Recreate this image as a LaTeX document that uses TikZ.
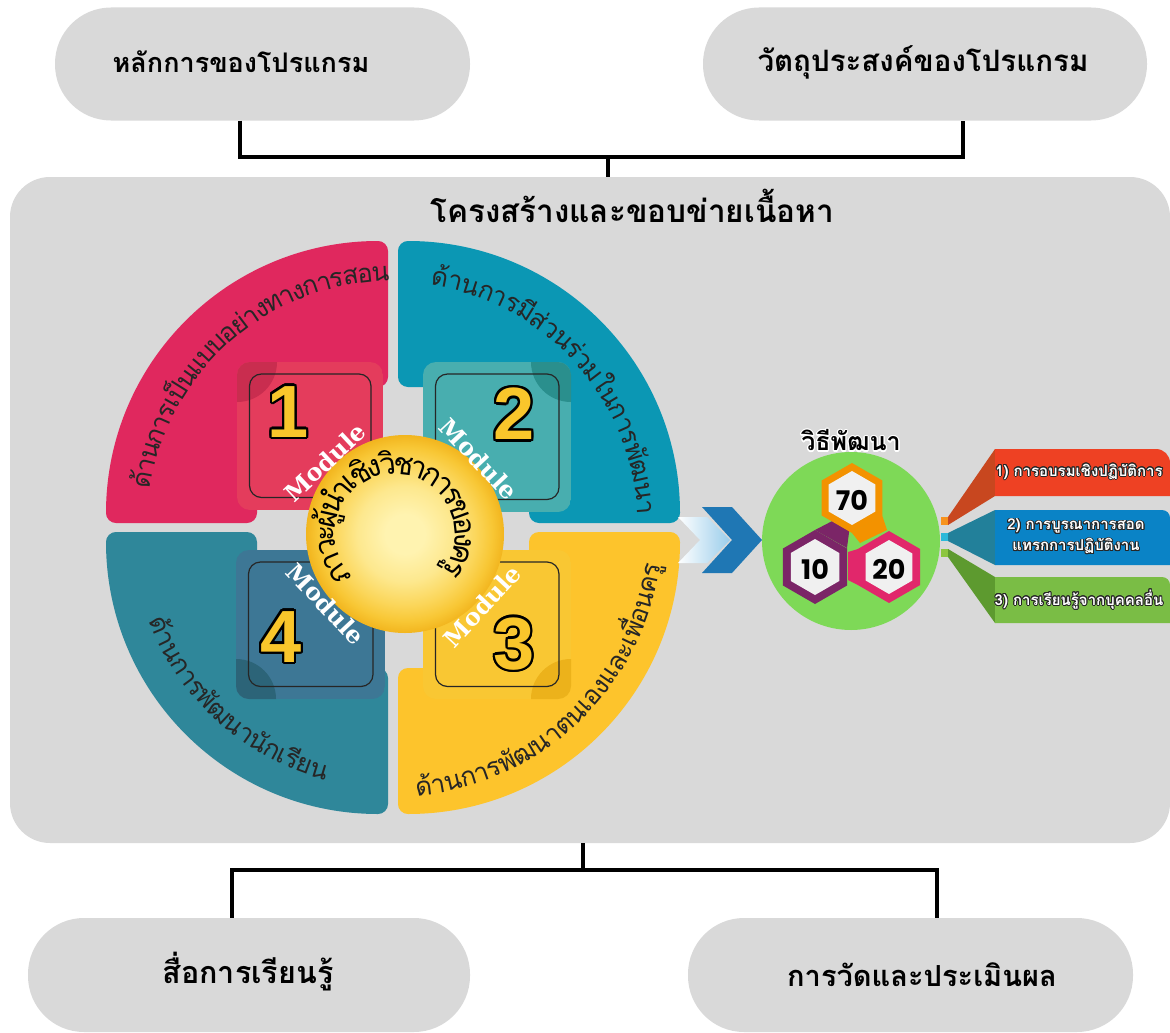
\documentclass[tikz,border=0pt]{standalone}
\usepackage{fontspec}
\setmainfont{Liberation Sans}
\newfontfamily\thai[Script=Thai]{Loma}
\newfontfamily\slab{DejaVu Serif}
\newfontfamily\pop{Poppins}
\usepackage{contour}
\usetikzlibrary{calc,shapes.geometric}
\definecolor{boxgray}{HTML}{D9D9D9}
\definecolor{qpink}{HTML}{E0285E}\definecolor{spink}{HTML}{E43C5C}\definecolor{dpink}{HTML}{C92D4F}
\definecolor{qteal}{HTML}{0B97B4}\definecolor{steal}{HTML}{48AEAF}\definecolor{dteal}{HTML}{2A8F8D}
\definecolor{qdteal}{HTML}{2F879A}\definecolor{sdteal}{HTML}{3D7795}\definecolor{ddteal}{HTML}{2C6478}
\definecolor{qyel}{HTML}{FDC42C}\definecolor{syel}{HTML}{F9C733}\definecolor{dyel}{HTML}{ECB21B}
\definecolor{numyel}{HTML}{F9C62B}
\definecolor{sunA}{HTML}{FFF3B0}\definecolor{sunB}{HTML}{FDE88E}\definecolor{sunC}{HTML}{FBD65A}
\definecolor{sunD}{HTML}{F8C735}\definecolor{sunE}{HTML}{F2B51E}
\definecolor{gcircle}{HTML}{7ED957}
\definecolor{hexor}{HTML}{F39200}\definecolor{hexpu}{HTML}{7B2567}\definecolor{hexpk}{HTML}{E1276B}
\definecolor{chevdark}{HTML}{1F77B4}\definecolor{chevlight}{HTML}{9ACDEB}
\definecolor{rone}{HTML}{EE4123}\definecolor{rones}{HTML}{C8471F}\definecolor{tabor}{HTML}{F7931E}
\definecolor{btwo}{HTML}{0A83C6}\definecolor{btwos}{HTML}{22809A}\definecolor{tabcy}{HTML}{2BB8D9}
\definecolor{gthree}{HTML}{7ABD45}\definecolor{gthrees}{HTML}{5D9A2F}\definecolor{tabgr}{HTML}{8CC63F}
\definecolor{qtext}{HTML}{262626}
\pgfdeclareradialshading{sun}{\pgfpoint{0bp}{0bp}}{color(0bp)=(sunA); color(5bp)=(sunA); color(12bp)=(sunB); color(18bp)=(sunC); color(22bp)=(sunD); color(25bp)=(sunE); color(50bp)=(sunE)}
\newlength\clw
\newcommand\circfont{\thai\fontsize{30}{30}\selectfont}
\newcommand\quadfont{\thai\fontsize{26}{26}\selectfont\color{qtext}}
% measure clusters outside the picture
\newcommand\prepare[3]{%
  \xdef\totw{0}\gdef\pairs{}%
  \foreach \cl in {#3}{\settowidth\clw{#2\cl}\pgfmathsetmacro\tmpw{\totw+\clw}\xdef\totw{\tmpw}%
     \ifx\pairs\empty\xdef\pairs{\cl/\the\clw}\else\xdef\pairs{\pairs,\cl/\the\clw}\fi}%
  \global\expandafter\let\csname pairs#1\endcsname\pairs
  \global\expandafter\let\csname tot#1\endcsname\totw}
\prepare{C}{\circfont}{ภ,า,ว,ะ,ผู้,น,ำ,เ,ชิ,ง,วิ,ช,า,ก,า,ร,ข,อ,ง,ค,รู}
\prepare{P}{\quadfont}{ด้,า,น,ก,า,ร,เ,ป็,น,แ,บ,บ,อ,ย่,า,ง,ท,า,ง,ก,า,ร,ส,อ,น}
\prepare{T}{\quadfont}{ด้,า,น,ก,า,ร,มี,ส่,ว,น,ร่,ว,ม,ใ,น,ก,า,ร,พั,ฒ,น,า}
\prepare{D}{\quadfont}{ด้,า,น,ก,า,ร,พั,ฒ,น,า,นั,ก,เ,รี,ย,น}
\prepare{Y}{\quadfont}{ด้,า,น,ก,า,ร,พั,ฒ,น,า,ต,น,เ,อ,ง,แ,ล,ะ,เ,พื่,อ,น,ค,รู}
% place measured clusters along an arc: #1 cx, #2 cy, #3 baseline radius, #4 start, #5 end, #6 rotation offset, #7 set, #8 font
\newcommand\arcdraw[8]{%
  \xdef\cumw{0}%
  \expandafter\let\expandafter\curpairs\csname pairs#7\endcsname
  \expandafter\let\expandafter\curtot\csname tot#7\endcsname
  \foreach \cl/\w in \curpairs {%
    \pgfmathsetmacro\frac{(\cumw+0.5*\w)/\curtot}%
    \pgfmathsetmacro\ang{#4+(#5-#4)*\frac}%
    \pgfmathsetmacro\nang{0-(\ang)}%
    \node[rotate=\ang#6, anchor=base, inner sep=0pt] at ($(#1,#2)+(\nang:#3)$) {#8\cl};%
    \pgfmathsetmacro\tmpw{\cumw+\w}\xdef\cumw{\tmpw}}%
}
\newcommand\quadrant[7]{%
  \path[fill=#7, draw=#7, line width=20pt, line join=round]
    ($(#1,#2)+(#3*131,0)$) -- ($(#1,#2)+(#3*262,0)$) arc[start angle=#5, end angle=#6, radius=262]
    -- ($(#1,#2)+(0,#4*136)$) -- ($(#1,#2)+(#3*131,#4*136)$) -- cycle;}
\newcommand\modsq[8]{%
  \begin{scope}
    \path[clip, rounded corners=13pt] (#1,#2) rectangle (#3,#4);
    \fill[#5] (#1,#2) rectangle (#3,#4);
    \fill[#6] (#7,#8) circle (40);
  \end{scope}
  \draw[line width=1.2pt, black!85, rounded corners=12pt] ($(#1,#2)+(12.5,12)$) rectangle ($(#3,#4)+(-12,-12.5)$);}
\newcommand\hexa[4]{%
  \fill[#4] ($(#1,#2)+(30:#3)$) -- ($(#1,#2)+(90:#3)$) -- ($(#1,#2)+(150:#3)$) -- ($(#1,#2)+(210:#3)$) -- ($(#1,#2)+(270:#3)$) -- ($(#1,#2)+(330:#3)$) -- cycle;}
\begin{document}
\begin{tikzpicture}[x=1pt,y=-1pt,
  pill/.style={fill=boxgray, rounded corners=56pt, inner sep=0pt},
  conn/.style={line width=4pt, black},
  ttl/.style={font=\thai\bfseries, inner sep=0pt},
  numst/.style={font=\bfseries\fontsize{74}{74}\selectfont, inner sep=0pt},
  modlab/.style={font=\slab\bfseries\fontsize{24}{24}\selectfont, text=white, inner sep=0pt},
  hexnum/.style={font=\pop\bfseries\fontsize{27}{27}\selectfont, inner sep=0pt},
  rtext/.style={font=\thai\bfseries\fontsize{15}{21}\selectfont, text=white, inner sep=0pt, align=center}]
\useasboundingbox (0,0) rectangle (1170,1033);
% ---- boxes
\node[pill, minimum width=415pt, minimum height=113pt] (p1) at (262.5,64) {};
\node[ttl] (t1) at (241,62) {\fontsize{27}{30}\selectfont หลักการของโปรแกรม};
\node[pill, minimum width=444pt, minimum height=113pt] (p2) at (925,64) {};
\node[ttl] (t2) at (923,62) {\fontsize{29.5}{32}\selectfont วัตถุประสงค์ของโปรแกรม};
\node[fill=boxgray, rounded corners=40pt, minimum width=1160pt, minimum height=666pt, inner sep=0pt] (main) at (590,510) {};
\node[ttl] (t3) at (632,206) {\fontsize{31.5}{34}\selectfont โครงสร้างและขอบข่ายเนื้อหา};
\node[pill, minimum width=442pt, minimum height=114pt] (p3) at (249,975) {};
\node[ttl] (t4) at (248,972) {\fontsize{30.5}{33}\selectfont สื่อการเรียนรู้};
\node[pill, minimum width=445pt, minimum height=114pt] (p4) at (910.5,975) {};
\node[ttl] (t5) at (922,975) {\fontsize{29}{32}\selectfont การวัดและประเมินผล};
% ---- connectors
\coordinate (j1) at (608,157);
\draw[conn] ([xshift=-22.5pt]p1.south) |- (j1) -| ([xshift=38pt]p2.south);
\draw[conn] (j1) -- (j1 |- main.north);
\coordinate (j2) at (583,870);
\draw[conn] (j2 |- main.south) -- (j2);
\draw[conn] ([xshift=-17pt]p3.north) |- (j2) -| ([xshift=26.5pt]p4.north);
% ---- wheel quadrants
\quadrant{378}{513}{-1}{-1}{180}{270}{qpink}
\quadrant{408}{513}{1}{-1}{0}{-90}{qteal}
\quadrant{378}{542}{-1}{1}{180}{90}{qdteal}
\quadrant{408}{542}{1}{1}{0}{90}{qyel}
% ---- module squares
\modsq{237}{362}{383}{510}{spink}{dpink}{237}{362}
\modsq{423}{362}{571}{512}{steal}{dteal}{571}{362}
\modsq{236}{550}{385}{699}{sdteal}{ddteal}{236}{699}
\modsq{423}{550}{571}{699}{syel}{dyel}{571}{699}
\contourlength{2.4pt}
\node[numst] (n1) at (288,413) {\contour{black}{\color{numyel}1}};
\node[numst] (n2) at (514,415) {\contour{black}{\color{numyel}2}};
\node[numst] (n3) at (514,645) {\contour{black}{\color{numyel}3}};
\node[numst] (n4) at (281,638) {\contour{black}{\color{numyel}4}};
% ---- centre
\node[circle, shading=sun, minimum size=198pt, inner sep=0pt] (sun) at (405,534) {};
\arcdraw{395}{534}{60}{223}{-36}{-90}{C}{\circfont}
\node[modlab, rotate=43] (m1) at (325,462) {Module};
\node[modlab, rotate=-47] (m2) at (479,459) {Module};
\node[modlab, rotate=47] (m3) at (482,606) {Module};
\node[modlab, rotate=-47] (m4) at (326,604) {Module};
% ---- quadrant texts
\arcdraw{393}{527}{246}{171}{91}{-90}{P}{\quadfont}
\arcdraw{393}{527}{245}{81}{3}{-90}{T}{\quadfont}
\arcdraw{393}{527}{262}{201}{255}{+90}{D}{\quadfont}
\arcdraw{393}{527}{270}{275}{352}{+90}{Y}{\quadfont}
% ---- chevrons
\shade[left color=white, right color=chevlight] (678,517) -- (707,517) -- (730,540) -- (707,563) -- (678,563) -- (700,540) -- cycle;
\fill[chevdark] (702,507) -- (732,507) -- (762,540) -- (732,573) -- (702,573) -- (732,540) -- cycle;
% ---- development circle
\node[circle, fill=gcircle, minimum size=178pt, inner sep=0pt] (gc) at (851,541) {};
\contourlength{1.2pt}
\node[font=\thai\bfseries\fontsize{25}{25}\selectfont, inner sep=0pt] (vt) at (851,441) {\contour{white}{วิธีพัฒนา}};
\hexa{815}{567}{37}{hexpu}
\fill[hexpu] (815,530) -- (840,517) -- (850,525) -- (847,548) -- cycle;
\hexa{852}{498}{35}{hexor}
\fill[hexor] (882,515) -- (887,530) -- (860,543) -- (852,533) -- cycle;
\hexa{889}{567}{36}{hexpk}
\fill[hexpk] (858,549) -- (848,552) -- (848,580) -- (858,585) -- cycle;
\hexa{852}{498}{27}{white!94!black}
\hexa{815}{567}{28}{white!94!black}
\hexa{889}{567}{27}{white!94!black}
\node[hexnum] (h70) at (852,500) {70};
\node[hexnum] (h10) at (815,569) {10};
\node[hexnum] (h20) at (889,569) {20};
% ---- methods
\fill[tabor] (941,517) rectangle (949,525);
\fill[tabcy] (941,533) rectangle (949,541);
\fill[tabgr] (941,549) rectangle (949,557);
\fill[rones] (948,517) -- (995,449) -- (995,496) -- (948,525) -- cycle;
\fill[btwos] (948,533) -- (995,510) -- (995,565) -- (948,541) -- cycle;
\fill[gthrees] (948,549) -- (995,577) -- (995,623) -- (948,557) -- cycle;
\fill[rone] (995,496) -- (995,449) -- (1156,449) arc[start angle=-90, end angle=0, radius=14] -- (1170,496) -- cycle;
\fill[btwo] (995,565) -- (995,510) -- (1162,510) arc[start angle=-90, end angle=0, radius=8] -- (1170,565) -- cycle;
\fill[gthree] (995,623) -- (995,577) -- (1162,577) arc[start angle=-90, end angle=0, radius=8] -- (1170,623) -- cycle;
\contourlength{0.9pt}
\node[rtext] (l1) at (1079,472) {\contour{black!85}{1) การอบรมเชิงปฏิบัติการ}};
\node[rtext] (l2) at (1076,537) {\contour{black!85}{2) การบูรณาการสอด}\\\contour{black!85}{แทรกการปฏิบัติงาน}};
\node[rtext] (l3) at (1079,600) {\contour{black!85}{3) การเรียนรู้จากบุคคลอื่น}};
\end{tikzpicture}
\end{document}
